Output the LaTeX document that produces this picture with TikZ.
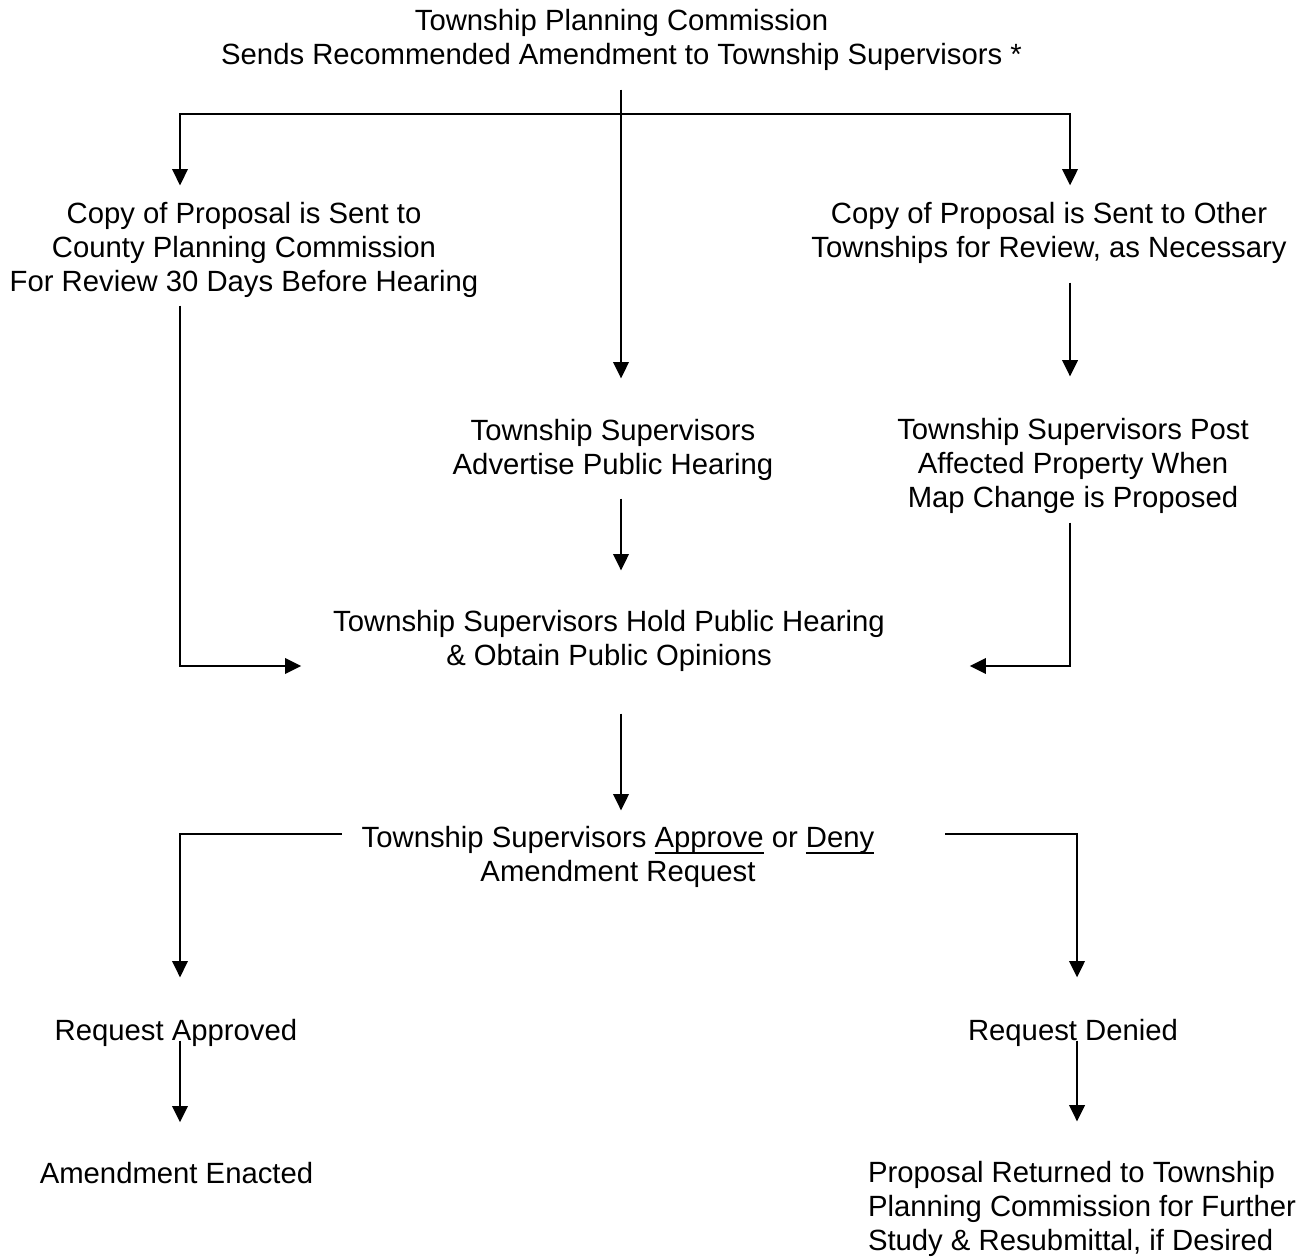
\documentclass[tikz,border=0pt]{standalone}
\usepackage{fontspec}
\setmainfont{Liberation Sans}
\usetikzlibrary{arrows.meta, positioning, calc}
\newsavebox{\ulbox}
\newcommand{\ulword}[1]{\sbox{\ulbox}{#1}\rlap{\rule[-1.9pt]{\wd\ulbox}{0.55pt}}\usebox{\ulbox}}

\begin{document}
\begin{tikzpicture}[
  every node/.style={font=\fontsize{8.33pt}{9.67pt}\selectfont},
  stepnote/.style={align=center, inner sep=0pt, outer sep=0pt},
  arr/.style={-{Triangle[length=4.6pt, width=4.4pt]}, line width=0.6pt, draw=black}
]
  \useasboundingbox (0,0) rectangle (13.13,-12.57);

  %% Columns of the connectors
  \coordinate (lcol)  at (1.80, 0);
  \coordinate (mcol)  at (6.21, 0);
  \coordinate (rcol)  at (10.70, 0);
  \coordinate (rcolb) at (10.77, 0);
  \coordinate (split) at (6.21, -1.14);

  %% Row 1
  \node[stepnote] (top) at (6.215,-0.40) {Township Planning Commission\\Sends Recommended Amendment to Township Supervisors *};

  %% Row 2
  \node[stepnote] (county) at (2.44,-2.50) {Copy of Proposal is Sent to\\County Planning Commission\\For Review 30 Days Before Hearing};
  \node[stepnote] (other)  at (10.49,-2.33) {Copy of Proposal is Sent to Other\\Townships for Review, as Necessary};

  %% Row 3
  \node[stepnote] (advertise) at (6.13,-4.50) {Township Supervisors\\Advertise Public Hearing};
  \node[stepnote] (post)      at (10.73,-4.66) {Township Supervisors Post\\Affected Property When\\Map Change is Proposed};

  %% Row 4
  \node[stepnote] (hold) at (6.09,-6.41) {Township Supervisors Hold Public Hearing\\\& Obtain Public Opinions};

  %% Row 5
  \node[stepnote] (decide) at (6.18,-8.57) {Township Supervisors \ulword{Approve} or \ulword{Deny}\\Amendment Request};

  %% Row 6
  \node[stepnote] (approved) at (1.76,-10.33) {Request Approved};
  \node[stepnote] (denied)   at (10.73,-10.33) {Request Denied};

  %% Row 7
  \node[stepnote] (enacted)  at (1.765,-11.73) {Amendment Enacted};
  \node[stepnote, anchor=west, align=left] (returned) at (8.68,-12.09) {Proposal Returned to Township\\Planning Commission for Further\\Study \& Resubmittal, if Desired};

  %% Arrows – Row 1 → Row 2/3
  \draw[arr, shorten <=1.9mm, shorten >=4.1mm] (top.south -| mcol) -- (advertise.north -| mcol);
  \draw[arr, shorten >=1.7mm] (split) -| (county.north -| lcol);
  \draw[arr, shorten >=1.7mm] (split) -| (other.north -| rcol);

  %% Row 2 → Row 3
  \draw[arr, shorten <=1.9mm, shorten >=4.2mm] (other.south -| rcol) -- (post.north -| rcol);

  %% Row 2/3 → Row 4
  \draw[arr, shorten <=1.8mm, shorten >=4.0mm] (advertise.south -| mcol) -- (hold.north -| mcol);
  \draw[arr, shorten <=0.8mm, shorten >=3.2mm] (county.south -| lcol) |- ([yshift=-2.5mm]hold.west);
  \draw[arr, shorten <=0.9mm, shorten >=8.5mm] (post.south -| rcol) |- ([yshift=-2.5mm]hold.east);

  %% Row 4 → Row 5
  \draw[arr, shorten <=4.2mm, shorten >=1.6mm] (hold.south -| mcol) -- (decide.north -| mcol);

  %% Row 5 → Row 6
  \draw[arr, shorten <=2.0mm, shorten >=4.2mm] ([yshift=2.3mm]decide.west) -| (approved.north -| lcol);
  \draw[arr, shorten <=7.1mm, shorten >=4.2mm] ([yshift=2.3mm]decide.east) -| (denied.north -| rcolb);

  %% Row 6 → Row 7
  \draw[arr, shorten >=4.0mm] (approved.base -| lcol) -- (enacted.north -| lcol);
  \draw[arr, shorten >=4.0mm] (denied.base -| rcolb) -- (returned.north -| rcolb);
\end{tikzpicture}
\end{document}
